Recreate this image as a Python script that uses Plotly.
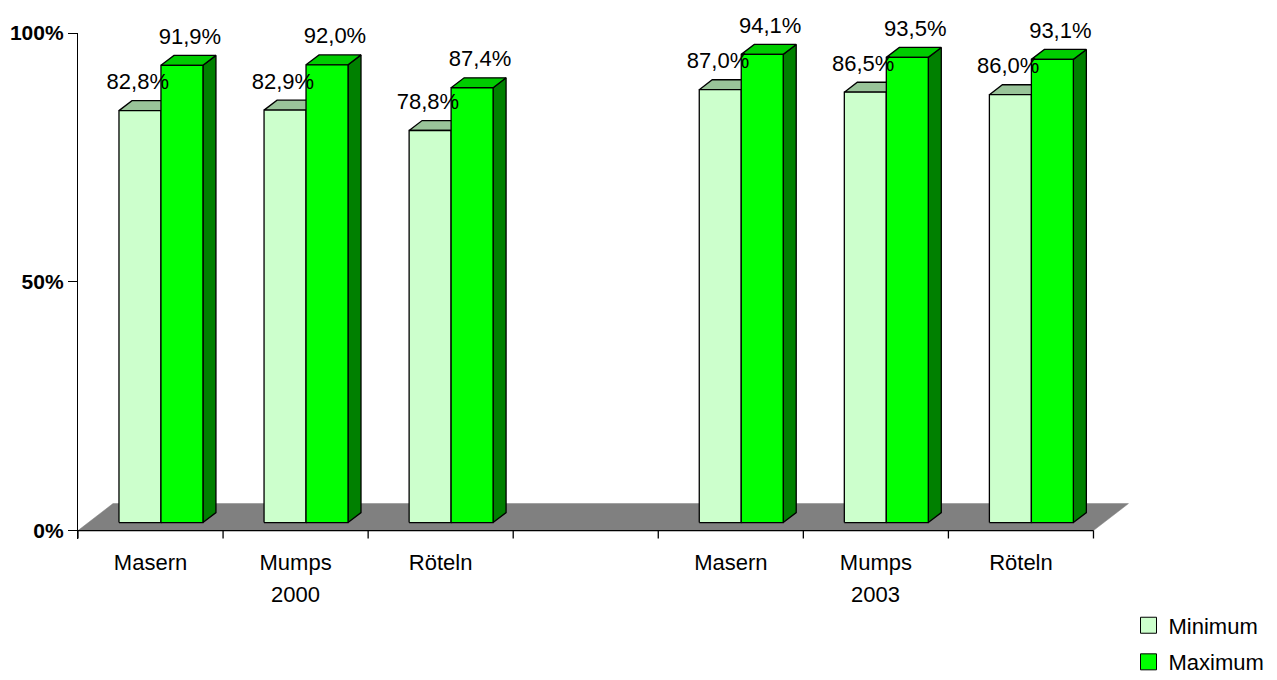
import plotly.graph_objects as go

# ---------------- data ----------------
categories = ["Masern", "Mumps", "Röteln", "", "Masern", "Mumps", "Röteln"]
year_labels = ["2000", "2003"]
year_positions = [1, 5]          # category index under which the year is centred
minimum = [82.8, 82.9, 78.8, None, 87.0, 86.5, 86.0]
maximum = [91.9, 92.0, 87.4, None, 94.1, 93.5, 93.1]
y_ticks = [0, 50, 100]
y_tick_labels = ["0%", "50%", "100%"]

# ---------------- geometry / style ----------------
W, H = 1277, 680
L, R, T, B = 78, 139.5, 33, 140.5
X_RANGE = [0, 7.3]
Y_RANGE = [-1.7, 100]
plot_w = W - L - R
plot_h = H - T - B

def px_x(px):
    return (px - L) / plot_w
def px_y(py):
    return (H - B - py) / plot_h

BAR_LEFT = 0.2825   # offset of the first bar within a category
BAR_W = 0.2894      # bar width in category units
DX, DY = 0.0896, 2.0    # bar depth (x in category units, y in %)
BASE = 1.6              # front face baseline (depth offset)
FLOOR_DX, FLOOR_DY = 0.2411, 5.42
LABEL_GAP = 3.2         # label anchor above the front top (in %)
FONT = "Liberation Sans, Arial, sans-serif"

def faces(vals, off):
    fr = ([], []); tp = ([], []); sd = ([], [])
    for i, v in enumerate(vals):
        if v is None:
            continue
        xa = i + off
        xb = xa + BAR_W
        yb = BASE
        yt = BASE + v
        fr[0].extend([xa, xb, xb, xa, xa, None]); fr[1].extend([yb, yb, yt, yt, yb, None])
        tp[0].extend([xa, xb, xb + DX, xa + DX, xa, None]); tp[1].extend([yt, yt, yt + DY, yt + DY, yt, None])
        sd[0].extend([xb, xb + DX, xb + DX, xb, xb, None]); sd[1].extend([yb, yb + DY, yt + DY, yt, yb, None])
    return fr, tp, sd

def poly(xy, fill, lw=1.3):
    return go.Scatter(x=xy[0], y=xy[1], mode="lines", fill="toself", fillcolor=fill,
                      line=dict(color="black", width=lw), showlegend=False, hoverinfo="skip")

fig = go.Figure()

# floor
n = len(categories)
fig.add_trace(go.Scatter(x=[0, n, n + FLOOR_DX, FLOOR_DX, 0], y=[0, 0, FLOOR_DY, FLOOR_DY, 0],
                         mode="lines", fill="toself", fillcolor="#808080",
                         line=dict(color="#808080", width=0.5), showlegend=False, hoverinfo="skip"))
# front edge and category boundary ticks
ex, ey = [0, n, None], [0, 0, None]
for i in range(n + 1):
    ex += [i, i, None]
    ey += [0, -1.6, None]
fig.add_trace(go.Scatter(x=ex, y=ey, mode="lines", line=dict(color="black", width=1.3),
                         showlegend=False, hoverinfo="skip"))

min_off = BAR_LEFT
max_off = BAR_LEFT + BAR_W
mf, mt, ms = faces(minimum, min_off)
xf, xt, xs = faces(maximum, max_off)
fig.add_trace(poly(ms, "#99CC99"))
fig.add_trace(poly(mt, "#99C499"))
fig.add_trace(poly(mf, "#CCFFCC"))
fig.add_trace(poly(xs, "#008000"))
fig.add_trace(poly(xt, "#00CC00"))
fig.add_trace(poly(xf, "#00FF00"))

def fmt(v):
    return f"{v:.1f}".replace(".", ",") + "%"

lab_x, lab_y, lab_t = [], [], []
for i, v in enumerate(minimum):
    if v is None:
        continue
    lab_x.append(i + min_off + BAR_W / 2 - 0.015); lab_y.append(BASE + v + LABEL_GAP); lab_t.append(fmt(v))
for i, v in enumerate(maximum):
    if v is None:
        continue
    lab_x.append(i + max_off + BAR_W / 2 + 0.055); lab_y.append(BASE + v + LABEL_GAP); lab_t.append(fmt(v))
fig.add_trace(go.Scatter(x=lab_x, y=lab_y, text=lab_t, mode="text", textposition="top center",
                         textfont=dict(family=FONT, size=22, color="black"), cliponaxis=False,
                         showlegend=False, hoverinfo="skip"))

# legend entries
fig.add_trace(go.Scatter(x=[None], y=[None], mode="markers", name="Minimum", legendgroup="a",
                         marker=dict(symbol="square", size=16, color="#CCFFCC", line=dict(color="black", width=1))))
fig.add_trace(go.Scatter(x=[None], y=[None], mode="markers", name="Maximum", legendgroup="b",
                         marker=dict(symbol="square", size=16, color="#00FF00", line=dict(color="black", width=1))))

tick_pos = [i + 0.5 for i, c in enumerate(categories) if c]
tick_txt = [c for c in categories if c]

for yl, yp in zip(year_labels, year_positions):
    fig.add_annotation(x=yp + 0.5, y=px_y(595), xref="x", yref="paper", text=yl, showarrow=False,
                       font=dict(family=FONT, size=22, color="black"), xanchor="center", yanchor="middle")

fig.update_layout(
    width=W, height=H, margin=dict(l=L, r=R, t=T, b=B, pad=0, autoexpand=False),
    paper_bgcolor="white", plot_bgcolor="white",
    font=dict(family=FONT, color="black"),
    showlegend=True,
    legend=dict(x=px_x(1129), y=px_y(605), xanchor="left", yanchor="top",
                font=dict(family=FONT, size=22, color="black"), bgcolor="rgba(0,0,0,0)",
                traceorder="grouped", tracegroupgap=5, itemclick=False),
    xaxis=dict(range=X_RANGE, showgrid=False, zeroline=False, showline=False,
               tickmode="array", tickvals=tick_pos, ticktext=tick_txt, ticks="",
               tickfont=dict(family=FONT, size=22, color="black"), ticklabelstandoff=8),
    yaxis=dict(range=Y_RANGE, showgrid=False, zeroline=False, showline=True, linecolor="black",
               linewidth=1.3, tickmode="array", tickvals=y_ticks, ticktext=y_tick_labels,
               ticks="outside", ticklen=9, tickcolor="black", tickwidth=1.3,
               tickfont=dict(family=FONT, size=21, color="black", weight="bold")),
)

fig.write_html("out.html")
